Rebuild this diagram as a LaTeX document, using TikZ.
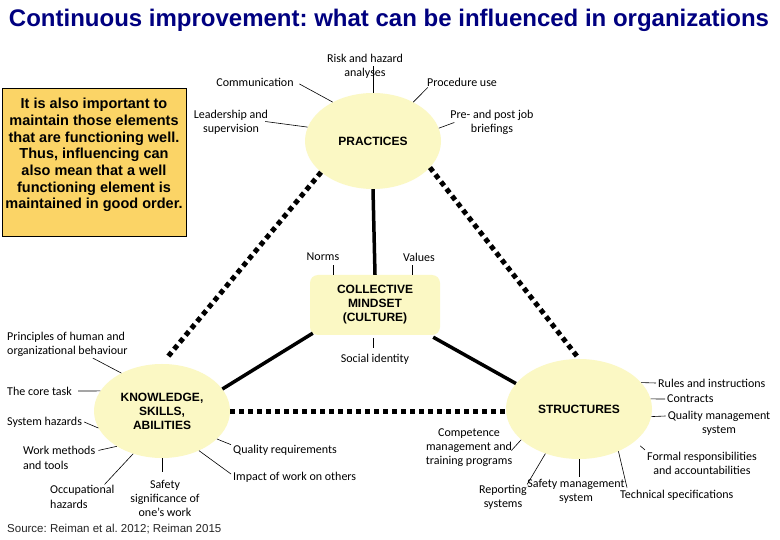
\documentclass[tikz,border=0pt]{standalone}
\usepackage{fontspec}
\setmainfont{Liberation Sans}
\newfontfamily\lblfont{Carlito}
\usetikzlibrary{shapes.geometric}
\definecolor{titleblue}{RGB}{0,0,128}
\definecolor{paleyellow}{RGB}{251,248,196}
\definecolor{boxgold}{RGB}{251,212,102}
\tikzset{
  lbl/.style={font=\lblfont\fontsize{12}{14.3}\selectfont, inner sep=2pt, align=center},
  lblL/.style={lbl, align=left},
  hub/.style={ellipse, fill=paleyellow, inner sep=0pt, font=\bfseries\fontsize{12}{14}\selectfont, align=center},
  dotline/.style={line width=5pt, dash pattern=on 5pt off 4pt},
  solidline/.style={line width=3.5pt},
  tick/.style={line width=0.6pt},
}
\begin{document}
\frenchspacing
\begin{tikzpicture}[x=1pt,y=-1pt]
\useasboundingbox (0,0) rectangle (780,540);
\fill[white] (0,0) rectangle (780,540);

% title
\node[anchor=base, text=titleblue, font=\bfseries\fontsize{24}{28}\selectfont, inner sep=0pt] (title) at (389,27)
  {Continuous improvement: what can be influenced in organizations};

% note box
\node[draw=black, line width=0.8pt, fill=boxgold, minimum width=184pt, minimum height=148pt, inner sep=0pt] (box) at (94,162) {};
\node[font=\bfseries\fontsize{14.5}{16.7}\selectfont, align=center, inner sep=0pt] (boxtext) at (94,155)
  {It is also important to\\maintain those elements\\that are functioning well.\\Thus, influencing can\\also mean that a well\\functioning element is\\maintained in good order.};

% hubs
\node[hub, minimum width=136pt, minimum height=96pt] (prac) at (373,141) {PRACTICES};
\node[hub, minimum width=136pt, minimum height=94pt] (know) at (162,411) {KNOWLEDGE,\\SKILLS,\\ABILITIES};
\node[hub, minimum width=146pt, minimum height=100pt] (struct) at (579,409) {STRUCTURES};
\node[rectangle, rounded corners=8pt, fill=paleyellow, minimum width=130pt, minimum height=60pt, inner sep=0pt,
  font=\bfseries\fontsize{12}{14}\selectfont, align=center] (mind) at (375,305) {COLLECTIVE\\MINDSET\\(CULTURE)};

% main connectors
\draw[dotline, shorten >=8pt] (prac.211) -- (know.north);
\draw[dotline] (prac.335) -- (struct.north);
\draw[dotline] (know.east) -- (know.east -| struct.west);
\draw[solidline] (prac.south) -- (mind.north);
\draw[solidline] ([shift={(3,-2)}]mind.south west) -- (know.20);
\draw[solidline] ([shift={(-7,2)}]mind.south east) -- (struct.158);

% practices labels
\node[lbl] (comm) at (255,82) {Communication};
\draw[tick, shorten <=4pt] (comm.east) -- (prac.136);
\node[lbl] (lead) at (231,122.5) {Leadership and\\supervision};
\draw[tick] ([shift={(-5,-1)}]lead.east) -- (prac.168);
\node[lbl] (risk) at (365,66) {Risk and hazard\\analyses};
\draw[tick] (prac.north) -- (prac.north |- risk.center);
\node[lbl] (proc) at (462,82) {Procedure use};
\draw[tick] ([shift={(3,-1)}]proc.south west) -- (prac.44);
\node[lbl] (pre) at (492,122.5) {Pre- and post job\\briefings};
\draw[tick] ([shift={(6,0)}]pre.west) -- (prac.11);

% mindset labels
\node[lbl] (norms) at (323,257) {Norms};
\draw[tick] ([shift={(23,0)}]mind.north west) -- ([shift={(23,-10)}]mind.north west);
\node[lbl] (values) at (419,257) {Values};
\draw[tick] ([shift={(102,0)}]mind.north west) -- ([shift={(102,-10)}]mind.north west);
\node[lbl] (social) at (375,359) {Social identity};
\draw[tick] ([shift={(-2,3)}]mind.south) -- ([shift={(-2,13)}]mind.south);

% knowledge labels
\node[lblL, anchor=west] (princ) at (5,344.5) {Principles of human and\\organizational behaviour};
\draw[tick] ([shift={(-37,-1)}]princ.south east) -- (know.137);
\node[lblL, anchor=west] (core) at (5,391) {The core task};
\draw[tick] ([shift={(4,0)}]core.east) -- (know.162);
\node[lblL, anchor=west] (sys) at (5,422) {System hazards};
\draw[tick] (sys.east) -- (know.195);
\node[lblL, anchor=west] (work) at (21,458) {Work methods\\and tools};
\draw[tick] ([shift={(1,6)}]work.north east) -- (know.218);
\node[lblL, anchor=west] (occ) at (48,497) {Occupational\\hazards};
\draw[tick] ([shift={(-12,1)}]occ.north east) -- (know.236);
\node[lbl] (safety) at (165,498.5) {Safety\\significance of\\one’s work};
\draw[tick, shorten >=6pt] (know.south) -- (know.south |- safety.north);
\node[lblL, anchor=west] (qual) at (231,450) {Quality requirements};
\draw[tick] ([shift={(0,2)}]qual.north west) -- (know.333);
\node[lblL, anchor=west] (impact) at (231,477) {Impact of work on others};
\draw[tick] ([shift={(0,-3)}]impact.west) -- (know.313);

% source
\node[anchor=west, text=black!85, font=\fontsize{11.5}{14}\selectfont, inner sep=0pt] (source) at (7,529)
  {Source: Reiman et al. 2012; Reiman 2015};

% structures labels
\node[lblL, anchor=west] (rules) at (656,383) {Rules and instructions};
\draw[tick] (struct.23) -- (rules.west);
\node[lblL, anchor=west] (contracts) at (665,399) {Contracts};
\draw[tick] (struct.8) -- (contracts.west);
\node[lbl] (qms) at (719,423) {Quality management\\system};
\draw[tick] (struct.354) -- ([shift={(0,-7)}]qms.west);
\node[lbl] (formal) at (702,463.5) {Formal responsibilities\\and accountabilities};
\draw[tick, shorten >=7pt] (formal.north west) -- (struct.330);
\node[lbl] (comp) at (469,447.5) {Competence\\management and\\training programs};
\draw[tick] ([shift={(-3,3)}]comp.east) -- (struct.208);
\node[lbl] (rep) at (503,497) {Reporting\\systems};
\draw[tick] ([shift={(-2,2)}]rep.north east) -- (struct.233);
\node[lbl] (sms) at (576,491.5) {Safety management\\system};
\draw[tick] (struct.south) -- (struct.south |- sms.north);
\node[lblL, anchor=west] (tech) at (618,495) {Technical specifications};
\draw[tick] ([shift={(9,0)}]tech.north west) -- (struct.313);
\end{tikzpicture}
\end{document}
